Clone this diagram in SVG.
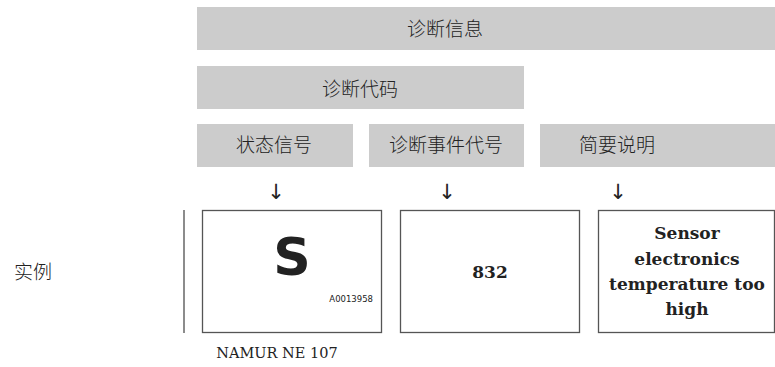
<svg xmlns="http://www.w3.org/2000/svg" width="775" height="367" viewBox="0 0 775 367">
<style>
.bar{fill:#cccccc}
.cjk{font-family:"Noto Sans CJK SC",sans-serif;font-size:19px;font-weight:300;fill:#222;text-anchor:middle}
.frame{fill:#fff;stroke:#555;stroke-width:1.3}
.bold{font-family:"DejaVu Serif","Liberation Serif",serif;font-weight:bold;font-size:17px;fill:#222;text-anchor:middle}
.arrow{font-family:"DejaVu Sans",sans-serif;font-size:21px;fill:#222;text-anchor:middle}
</style>
<rect width="775" height="367" fill="#fff"/>
<g id="diag-info"><rect class="bar" x="197" y="7" width="578" height="43"/><text class="cjk" x="445" y="36">诊断信息</text></g>
<g id="diag-code"><rect class="bar" x="197" y="66" width="327" height="43"/><text class="cjk" x="360" y="96">诊断代码</text></g>
<g id="status"><rect class="bar" x="197" y="124" width="156" height="43"/><text class="cjk" x="274" y="152">状态信号</text></g>
<g id="event"><rect class="bar" x="369" y="124" width="155" height="43"/><text class="cjk" x="446" y="152">诊断事件代号</text></g>
<g id="short"><rect class="bar" x="540" y="124" width="235" height="43"/><text class="cjk" x="617" y="152">简要说明</text></g>
<g id="connectors">
<text class="arrow" x="276" y="199">↓</text>
<text class="arrow" x="447" y="199">↓</text>
<text class="arrow" x="618" y="199">↓</text>
<line x1="184" y1="210" x2="184" y2="333" stroke="#666" stroke-width="1.5"/>
</g>
<g id="example-label"><text class="cjk" x="33" y="279">实例</text></g>
<g id="box-s">
<rect class="frame" x="202.5" y="210.5" width="179" height="122"/>
<text x="292" y="275" font-family="DejaVu Sans,sans-serif" font-weight="bold" font-size="52" fill="#222" text-anchor="middle">S</text>
<text x="373" y="302" font-family="DejaVu Sans,sans-serif" font-size="8.5" fill="#222" text-anchor="end">A0013958</text>
</g>
<g id="box-832">
<rect class="frame" x="400.5" y="210.5" width="179" height="122"/>
<text class="bold" x="490" y="278">832</text>
</g>
<g id="box-text">
<rect class="frame" x="598.5" y="210.5" width="176" height="122"/>
<text class="bold" x="687" y="239">Sensor</text>
<text class="bold" x="687" y="265">electronics</text>
<text class="bold" x="687" y="290">temperature too</text>
<text class="bold" x="687" y="315">high</text>
</g>
<g id="namur"><text x="277" y="358" font-family="DejaVu Serif,serif" font-size="14.5" fill="#222" text-anchor="middle">NAMUR NE 107</text></g>
</svg>
